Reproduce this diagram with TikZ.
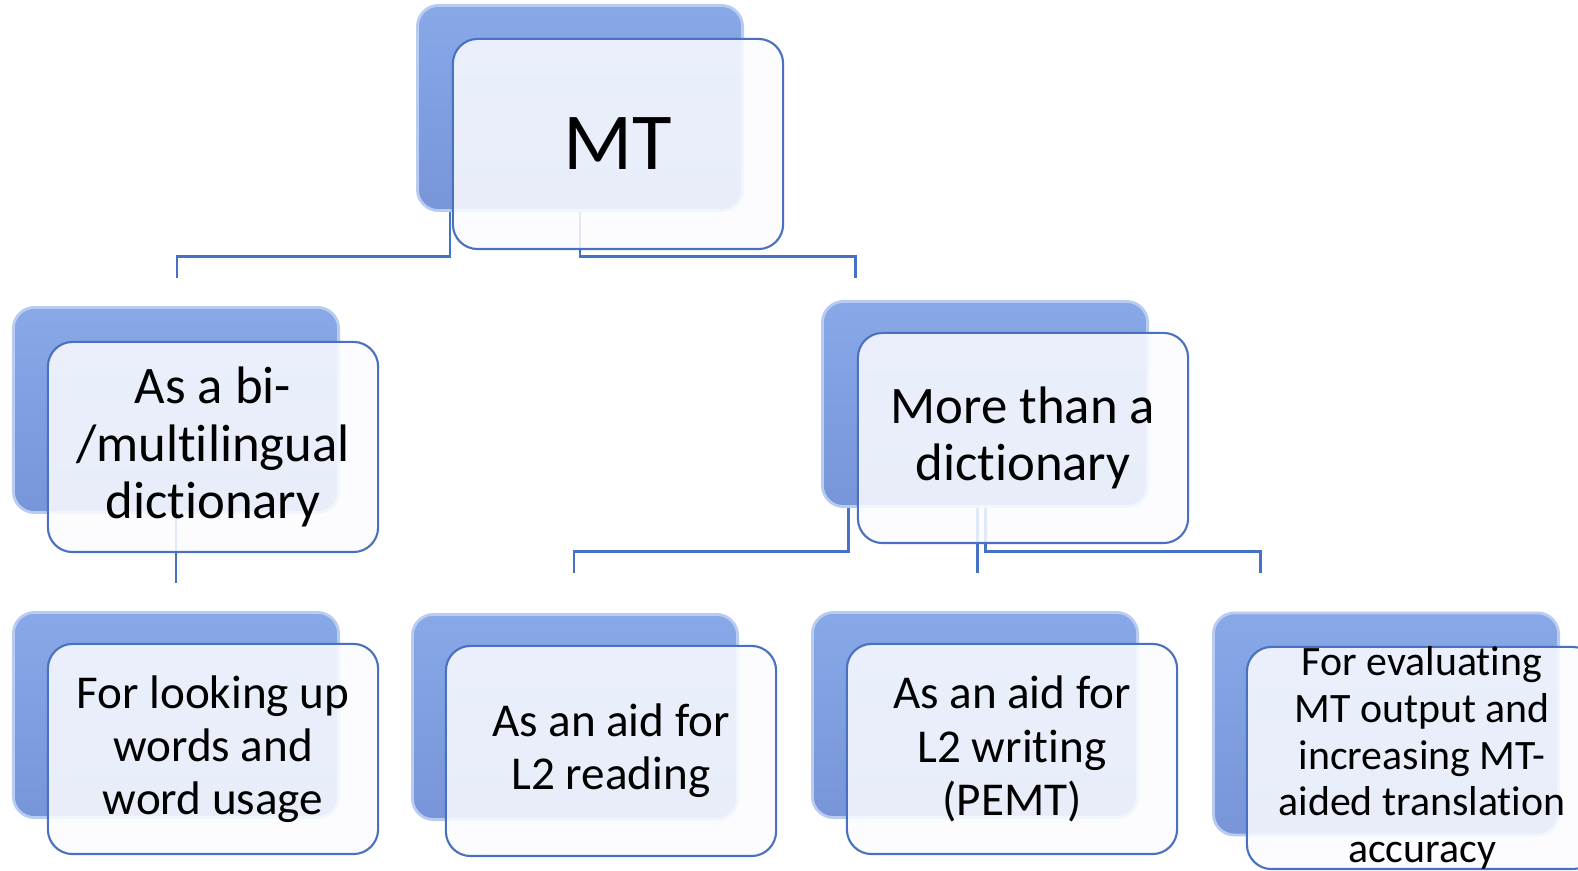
\documentclass[tikz,border=0pt]{standalone}
\usepackage{fontspec}
\setmainfont{Carlito}[Ligatures=NoCommon]
\usepackage{tikz}
\usetikzlibrary{calc}
\definecolor{linkblue}{HTML}{4472C4}
\definecolor{backtop}{HTML}{88A8E8}
\definecolor{backbot}{HTML}{7795D8}
\definecolor{edgeblue}{HTML}{4A70C0}
\definecolor{paper}{HTML}{FBFCFF}

\tikzset{
  backbox/.style={rounded corners=6pt,minimum width=3.25cm,minimum height=2.05cm,
    top color=backtop,bottom color=backbot,draw=backtop!60!white,line width=.8pt},
  frontbox/.style={rounded corners=7pt,minimum width=3.3cm,minimum height=2.1cm,
    draw=edgeblue,line width=.6pt,fill=paper,fill opacity=.86,text opacity=1,
    align=center,inner sep=0pt},
  link/.style={linkblue,line width=.85pt}
}

\begin{document}
\begin{tikzpicture}[x=0.01cm,y=-0.01cm]
  \useasboundingbox (0,0) rectangle (1578,871);
  % back boxes
  \node[backbox] (mtb) at (580,108) {};
  \foreach \n/\x/\y in {dictb/176/410,moreb/985/404,lookb/176/715,readb/575/717,writeb/975/715}
    \node[backbox] (\n) at (\x,\y) {};
  \node[backbox,minimum width=3.45cm,minimum height=2.22cm] (evalb) at (1386,724) {};
  % connectors
  \draw[link] ($(mtb.south)+(-130,0)$) |- (177,257) -- (177,278);
  \draw[link] (mtb.south) |- (855,257) -- (855,278);
  \draw[link] (dictb.south) -- ++(0,69);
  \draw[link] ($(moreb.south)+(-137,0)$) |- (574,552) -- (574,573);
  \draw[link] ($(moreb.south)+(-8,0)$) -- (977,573);
  \draw[link] (moreb.south) |- (1260,552) -- (1260,573);
  % front boxes
  \node[frontbox,font=\fontsize{23}{26}\selectfont] (mt) at (618,144) {MT};
  \node[frontbox,font=\fontsize{15}{16.3}\selectfont] (dict) at (213,447) {As a bi-\\/multilingual\\dictionary};
  \node[frontbox,font=\fontsize{15}{16.3}\selectfont] (more) at (1023,438) {More than a\\dictionary};
  \foreach \n/\x/\y/\t in {look/213/749/{For looking up\\words and\\word usage},
      read/611/751/{As an aid for\\L2 reading},write/1012/749/{As an aid for\\L2 writing\\(PEMT)}}
    \node[frontbox,font=\fontsize{13.4}{15.1}\selectfont] (\n) at (\x,\y) {\t};
  \node[frontbox,minimum width=3.5cm,minimum height=2.22cm,inner ysep=-0.07cm,
    font=\fontsize{11.9}{13.3}\selectfont] (eval) at (1422,758)
    {For evaluating\\MT output and\\increasing MT-\\aided translation\\accuracy};
\end{tikzpicture}
\end{document}
